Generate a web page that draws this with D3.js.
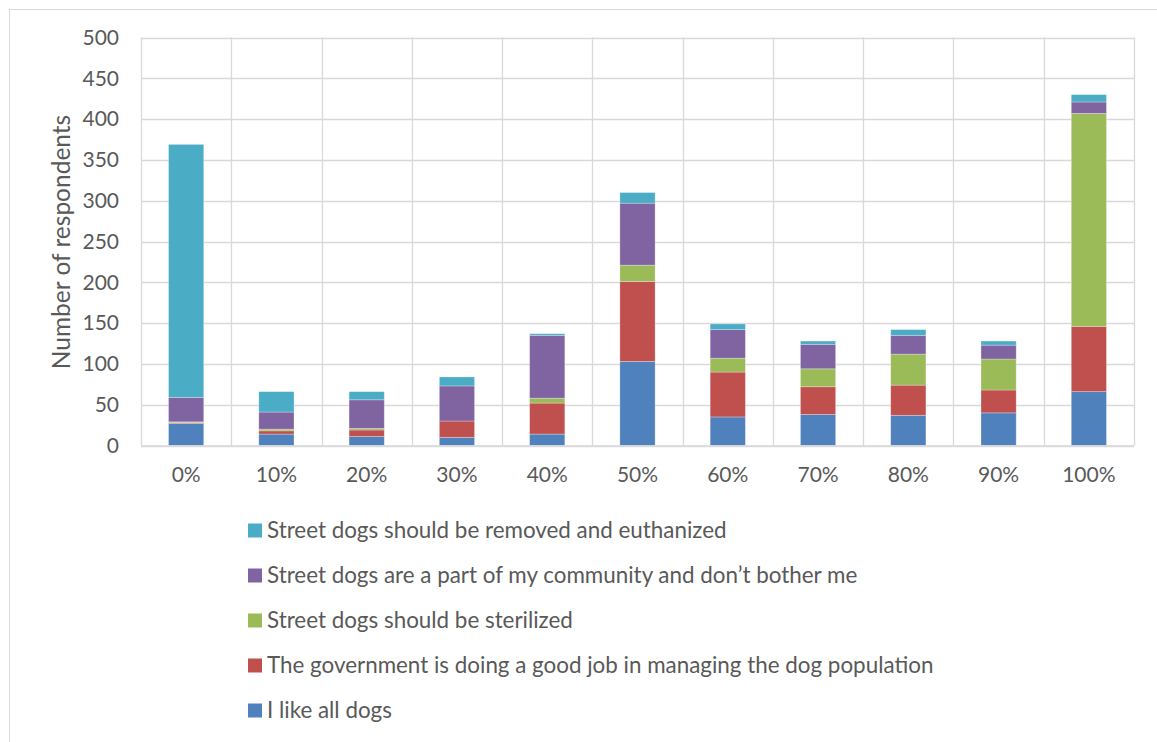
<!DOCTYPE html>
<html><head><meta charset="utf-8">
<script src="https://cdn.jsdelivr.net/npm/d3@7"></script>
<style>body{margin:0;background:#fff;} text{font-family:Lato,sans-serif;fill:#595959;}</style>
</head><body><svg id="c" width="1157" height="742"></svg>
<script>
const categories = ["0%","10%","20%","30%","40%","50%","60%","70%","80%","90%","100%"];
const likeAll      = [27, 14, 11, 10, 14, 103, 35, 38, 37, 40, 66];
const government   = [1, 4, 8, 20, 38, 98, 55, 34, 37, 28, 80];
const sterilized   = [1, 2, 2, 0, 6, 20, 17, 22, 38, 38, 261];
const community    = [30, 21, 35, 43, 77, 76, 35, 30, 23, 17, 14];
const euthanized   = [310, 25, 10, 11, 2, 13, 7, 4, 7, 5, 9];
const seriesNames = ["I like all dogs","The government is doing a good job in managing the dog population","Street dogs should be sterilized","Street dogs are a part of my community and don\u2019t bother me","Street dogs should be removed and euthanized"];
const seriesColors = ["#4F81BD","#C0504D","#9BBB59","#8064A2","#4BACC6"];
const yTicks = [0,50,100,150,200,250,300,350,400,450,500];

const seriesVals = [likeAll, government, sterilized, community, euthanized];
const keys = ["s0","s1","s2","s3","s4"];
const rows = categories.map((c,i)=>{const r={cat:c}; keys.forEach((k,j)=>r[k]=seriesVals[j][i]); return r;});
const stack = d3.stack().keys(keys)(rows);

const svg = d3.select("#c");
svg.append("rect").attr("x",9.5).attr("y",9.5).attr("width",1170).attr("height",760).attr("fill","none").attr("stroke","#d9d9d9");

const m = {l:141, r:1134, t:37.5, b:445.5};
const x = d3.scaleBand().domain(categories).range([m.l,m.r]).paddingInner(0.61).paddingOuter(0.305);
const xb = d3.scaleBand().domain(categories).range([m.l,m.r]);
const y = d3.scaleLinear().domain([0,500]).range([m.b,m.t]);

const g = svg.append("g");
g.selectAll(".hg").data(yTicks).join("line").attr("x1",m.l).attr("x2",m.r)
  .attr("y1",d=>Math.round(y(d))+0.5).attr("y2",d=>Math.round(y(d))+0.5).attr("stroke","#d9d9d9").attr("stroke-width",1.3);
const vb = categories.map(c=>xb(c)).concat([m.r]);
g.selectAll(".vg").data(vb).join("line").attr("y1",m.t).attr("y2",m.b)
  .attr("x1",d=>Math.round(d)+0.5).attr("x2",d=>Math.round(d)+0.5).attr("stroke","#d9d9d9").attr("stroke-width",1.3);

stack.forEach((s,j)=>{
  g.append("g").selectAll("rect").data(s).join("rect")
   .attr("x",d=>x(d.data.cat)).attr("width",x.bandwidth())
   .attr("y",d=>y(d[1])).attr("height",d=>Math.max(0,y(d[0])-y(d[1])))
   .attr("fill",seriesColors[j]).attr("stroke","#ffffff").attr("stroke-opacity",0.35).attr("stroke-width",0.8);
});

g.append("line").attr("x1",m.l).attr("x2",m.r).attr("y1",m.b+0.5).attr("y2",m.b+0.5).attr("stroke","#d9d9d9").attr("stroke-width",1.3);

const ya = d3.axisLeft(y).tickValues(yTicks).tickSize(0).tickPadding(22);
const yg = svg.append("g").attr("transform",`translate(${m.l},0)`).call(ya);
yg.select(".domain").remove();
yg.selectAll("text").style("font-size","21px").style("font-family","Lato, sans-serif").attr("fill","#595959");

const xa = d3.axisBottom(xb).tickSize(0).tickPadding(22);
const xg = svg.append("g").attr("transform",`translate(0,${m.b})`).call(xa);
xg.select(".domain").remove();
xg.selectAll("text").style("font-size","21px").style("font-family","Lato, sans-serif").attr("fill","#595959");

svg.append("text").attr("transform","translate(61,242) rotate(-90)").attr("text-anchor","middle")
  .attr("dy","0.35em").style("font-size","24.5px").text("Number of respondents");

const legOrder = [4,3,2,1,0];
const leg = svg.append("g");
legOrder.forEach((si,i)=>{
  const ly = 530.5 + i*45;
  leg.append("rect").attr("x",248).attr("y",ly-7).attr("width",14).attr("height",14).attr("fill",seriesColors[si]);
  leg.append("text").attr("x",267).attr("y",ly).attr("dy","0.35em").style("font-size","22.4px").text(seriesNames[si]);
});
</script></body></html>
